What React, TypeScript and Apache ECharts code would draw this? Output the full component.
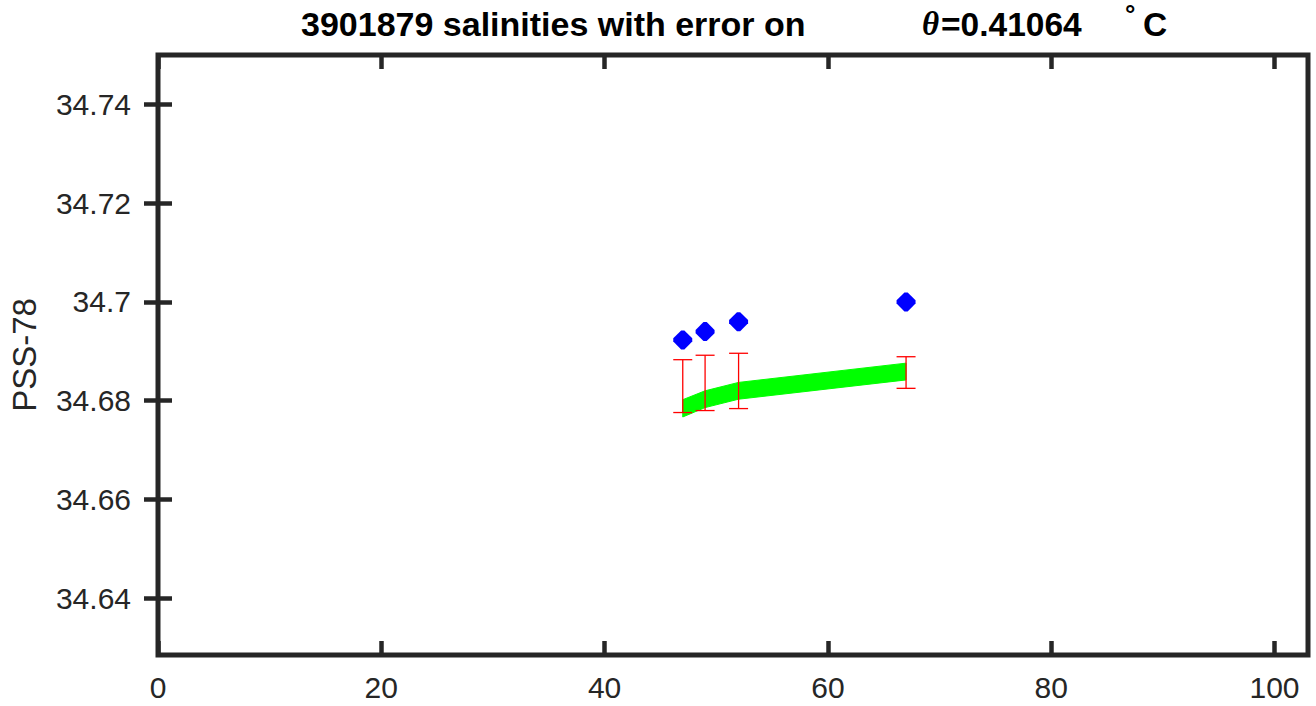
import React, { useEffect, useRef } from "react";
import * as echarts from "echarts";

// Float positions (x) and values
const xVals = [47, 49, 52, 67];
const salinity = [34.6923, 34.694, 34.696, 34.7];
const errLow = [34.6776, 34.678, 34.6784, 34.6825];
const errHigh = [34.6883, 34.6892, 34.6896, 34.6889];
const bandUpper = [34.6802, 34.682, 34.6837, 34.6876];
const bandLower = [34.6767, 34.6786, 34.6803, 34.6842];

const xTicks = [0, 20, 40, 60, 80, 100];
const yTicks = [34.64, 34.66, 34.68, 34.7, 34.72, 34.74];
const xRange = [0, 103];
const yRange = [34.6285, 34.75];

const AXIS_COLOR = "#262626";
const FONT = "'Liberation Sans', Arial, Helvetica, sans-serif";
const DIAMOND =
  "path://M-1.6,-9.5 L1.6,-9.5 L9.5,-1.6 L9.5,1.6 L1.6,9.5 L-1.6,9.5 L-9.5,1.6 L-9.5,-1.6 Z";

export default function App() {
  const ref = useRef<HTMLDivElement>(null);

  useEffect(() => {
    document.body.style.margin = "0";
    if (!ref.current) return;
    const chart = echarts.init(ref.current, undefined, { renderer: "svg" });

    const tickCommon = {
      show: true,
      inside: true,
      length: 14,
      lineStyle: { color: AXIS_COLOR, width: 4.5 },
    };

    const option: any = {
      animation: false,
      backgroundColor: "#ffffff",
      grid: {
        left: 158,
        right: 8,
        top: 55,
        bottom: 51,
        show: true,
        borderColor: AXIS_COLOR,
        borderWidth: 5,
        backgroundColor: "transparent",
      },
      graphic: [
        {
          type: "text",
          x: 301,
          y: 24,
          style: {
            text: "3901879 salinities with error on",
            font: `bold 34px ${FONT}`,
            fill: "#000",
            verticalAlign: "middle",
          },
        },
        {
          type: "text",
          x: 922,
          y: 24,
          style: {
            text: "θ",
            font: `italic bold 33px 'Liberation Serif', 'Times New Roman', serif`,
            fill: "#000",
            verticalAlign: "middle",
          },
        },
        {
          type: "text",
          x: 941,
          y: 24,
          style: {
            text: "=0.41064",
            font: `bold 33.5px ${FONT}`,
            fill: "#000",
            verticalAlign: "middle",
          },
        },
        {
          type: "text",
          x: 1125,
          y: 14,
          style: {
            text: "°",
            font: `bold 26px ${FONT}`,
            fill: "#000",
            verticalAlign: "middle",
          },
        },
        {
          type: "text",
          x: 1143,
          y: 24,
          style: {
            text: "C",
            font: `bold 33.5px ${FONT}`,
            fill: "#000",
            verticalAlign: "middle",
          },
        },
      ],
      xAxis: [
        {
          type: "value",
          position: "bottom",
          min: xRange[0],
          max: xRange[1],
          axisLine: { show: false },
          splitLine: { show: false },
          axisTick: { ...tickCommon, customValues: xTicks },
          axisLabel: {
            customValues: xTicks,
            color: AXIS_COLOR,
            fontSize: 30,
            fontFamily: FONT,
            margin: 17,
          },
        },
        {
          type: "value",
          position: "top",
          min: xRange[0],
          max: xRange[1],
          axisLine: { show: false },
          splitLine: { show: false },
          axisTick: { ...tickCommon, customValues: xTicks },
          axisLabel: { show: false },
        },
      ],
      yAxis: [
        {
          type: "value",
          position: "left",
          min: yRange[0],
          max: yRange[1],
          name: "PSS-78",
          nameLocation: "middle",
          nameRotate: 90,
          nameGap: 117,
          nameTextStyle: { color: AXIS_COLOR, fontSize: 33, fontFamily: FONT },
          axisLine: { show: false },
          splitLine: { show: false },
          axisTick: { ...tickCommon, customValues: yTicks },
          axisLabel: {
            customValues: yTicks,
            color: AXIS_COLOR,
            fontSize: 30,
            fontFamily: FONT,
            margin: 27,
            formatter: (v: number) => String(parseFloat(v.toFixed(4))),
          },
        },
        {
          type: "value",
          position: "right",
          min: yRange[0],
          max: yRange[1],
          axisLine: { show: false },
          splitLine: { show: false },
          axisTick: { ...tickCommon, customValues: yTicks },
          axisLabel: { show: false },
        },
      ],
      series: [
        {
          type: "custom",
          name: "band",
          xAxisIndex: 0,
          yAxisIndex: 0,
          data: xVals.map((x, i) => [x, bandUpper[i], bandLower[i]]),
          renderItem: (params: any, api: any) => {
            if (params.dataIndex !== 0) return null;
            const upper = xVals.map((x, i) => api.coord([x, bandUpper[i]]));
            const lower = xVals
              .map((x, i) => api.coord([x, bandLower[i]]))
              .reverse();
            return {
              type: "polygon",
              shape: { points: upper.concat(lower) },
              style: { fill: "#00ff00", stroke: "#00ff00", lineWidth: 1 },
            };
          },
          z: 2,
        },
        {
          type: "custom",
          name: "error",
          xAxisIndex: 0,
          yAxisIndex: 0,
          data: xVals.map((x, i) => [x, errLow[i], errHigh[i]]),
          renderItem: (params: any, api: any) => {
            const x = api.value(0);
            const lo = api.coord([x, api.value(1)]);
            const hi = api.coord([x, api.value(2)]);
            const hw = 9.5;
            const style = { stroke: "#ff0000", lineWidth: 1.3 };
            return {
              type: "group",
              children: [
                { type: "line", shape: { x1: lo[0], y1: lo[1], x2: hi[0], y2: hi[1] }, style },
                { type: "line", shape: { x1: lo[0] - hw, y1: lo[1], x2: lo[0] + hw, y2: lo[1] }, style },
                { type: "line", shape: { x1: hi[0] - hw, y1: hi[1], x2: hi[0] + hw, y2: hi[1] }, style },
              ],
            };
          },
          z: 3,
        },
        {
          type: "scatter",
          name: "salinity",
          xAxisIndex: 0,
          yAxisIndex: 0,
          data: xVals.map((x, i) => [x, salinity[i]]),
          symbol: DIAMOND,
          symbolSize: 19,
          itemStyle: {
            color: "#0000ff",
            opacity: 1,
          },
          z: 4,
        },
      ],
    };

    chart.setOption(option);
    return () => chart.dispose();
  }, []);

  return <div ref={ref} style={{ width: 1316, height: 706 }} />;
}
